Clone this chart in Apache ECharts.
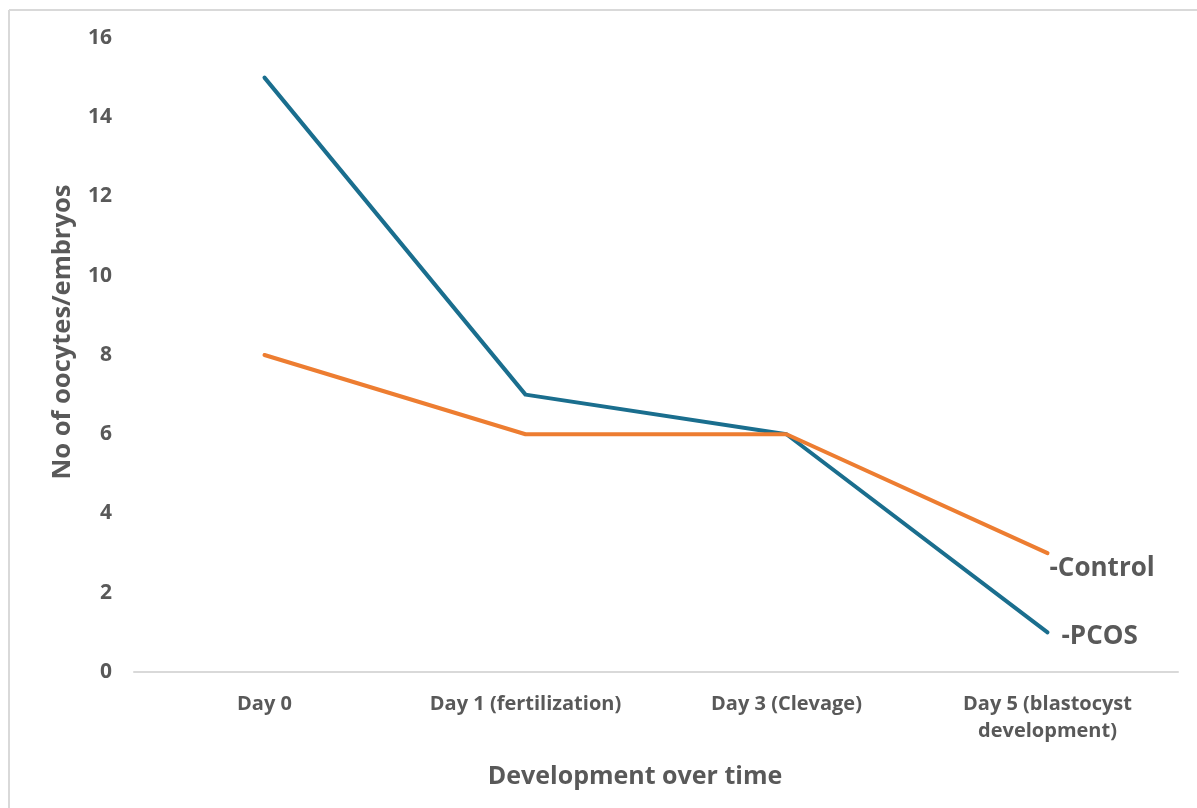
<!DOCTYPE html>
<html>
<head>
<meta charset="utf-8">
<script src="https://cdn.jsdelivr.net/npm/echarts@6/dist/echarts.min.js"></script>
<style>
  html, body { margin: 0; padding: 0; background: #ffffff; }
  #chart { width: 1197px; height: 808px; }
</style>
</head>
<body>
<div id="chart"></div>
<script>
// Stages of development along the x axis
const categories = ['Day 0', 'Day 1 (fertilization)', 'Day 3 (Clevage)', 'Day 5 (blastocyst\ndevelopment)'];
// Number of oocytes/embryos per group
const pcosValues = [15, 7, 6, 1];
const controlValues = [8, 6, 6, 3];
const seriesNames = ['PCOS', 'Control'];
const yTicks = { min: 0, max: 16, interval: 2 };

const textColor = '#595959';
const fontFamily = '"Open Sans", "Liberation Sans", Arial, sans-serif';

const chart = echarts.init(document.getElementById('chart'), null, { renderer: 'canvas' });

function endLabel(name, offset) {
  return {
    show: true,
    formatter: '-' + name,
    color: textColor,
    fontFamily: fontFamily,
    fontWeight: 'bold',
    fontSize: 26,
    distance: 2,
    offset: offset
  };
}

chart.setOption({
  animation: false,
  backgroundColor: '#ffffff',
  grid: { left: 134, right: 19, top: 38, bottom: 136, containLabel: false },
  graphic: [
    { type: 'line', shape: { x1: 9, y1: 10, x2: 1197, y2: 10 }, style: { stroke: '#d9d9d9', lineWidth: 2 } },
    { type: 'line', shape: { x1: 9, y1: 10, x2: 9, y2: 808 }, style: { stroke: '#d9d9d9', lineWidth: 2 } }
  ],
  xAxis: {
    type: 'category',
    data: categories,
    boundaryGap: true,
    name: 'Development over time',
    nameLocation: 'middle',
    nameGap: 92,
    nameTextStyle: {
      color: textColor, fontFamily: fontFamily, fontWeight: 'bold', fontSize: 25,
      padding: [0, 42, 0, 0]
    },
    axisLine: { show: true, lineStyle: { color: '#d9d9d9', width: 2 } },
    axisTick: { show: false },
    axisLabel: {
      color: textColor, fontFamily: fontFamily, fontWeight: 'bold', fontSize: 20,
      margin: 19, lineHeight: 27, interval: 0
    },
    splitLine: { show: false }
  },
  yAxis: {
    type: 'value',
    min: yTicks.min,
    max: yTicks.max,
    interval: yTicks.interval,
    name: 'No of oocytes/embryos',
    nameLocation: 'middle',
    nameGap: 58,
    nameRotate: 90,
    nameTextStyle: {
      color: textColor, fontFamily: fontFamily, fontWeight: 'bold', fontSize: 25.5,
      padding: [0, 0, 0, 46]
    },
    axisLine: { show: false },
    axisTick: { show: false },
    axisLabel: { color: textColor, fontFamily: fontFamily, fontWeight: 'bold', fontSize: 21, margin: 22 },
    splitLine: { show: false }
  },
  series: [
    {
      name: seriesNames[0],
      type: 'line',
      data: pcosValues,
      symbol: 'none',
      lineStyle: { color: '#1a6e8e', width: 4, cap: 'round', join: 'round' },
      itemStyle: { color: '#1a6e8e' },
      endLabel: endLabel(seriesNames[0], [12, 4])
    },
    {
      name: seriesNames[1],
      type: 'line',
      data: controlValues,
      symbol: 'none',
      lineStyle: { color: '#ed7d31', width: 4, cap: 'round', join: 'round' },
      itemStyle: { color: '#ed7d31' },
      endLabel: endLabel(seriesNames[1], [0, 15])
    }
  ]
});
</script>
</body>
</html>
